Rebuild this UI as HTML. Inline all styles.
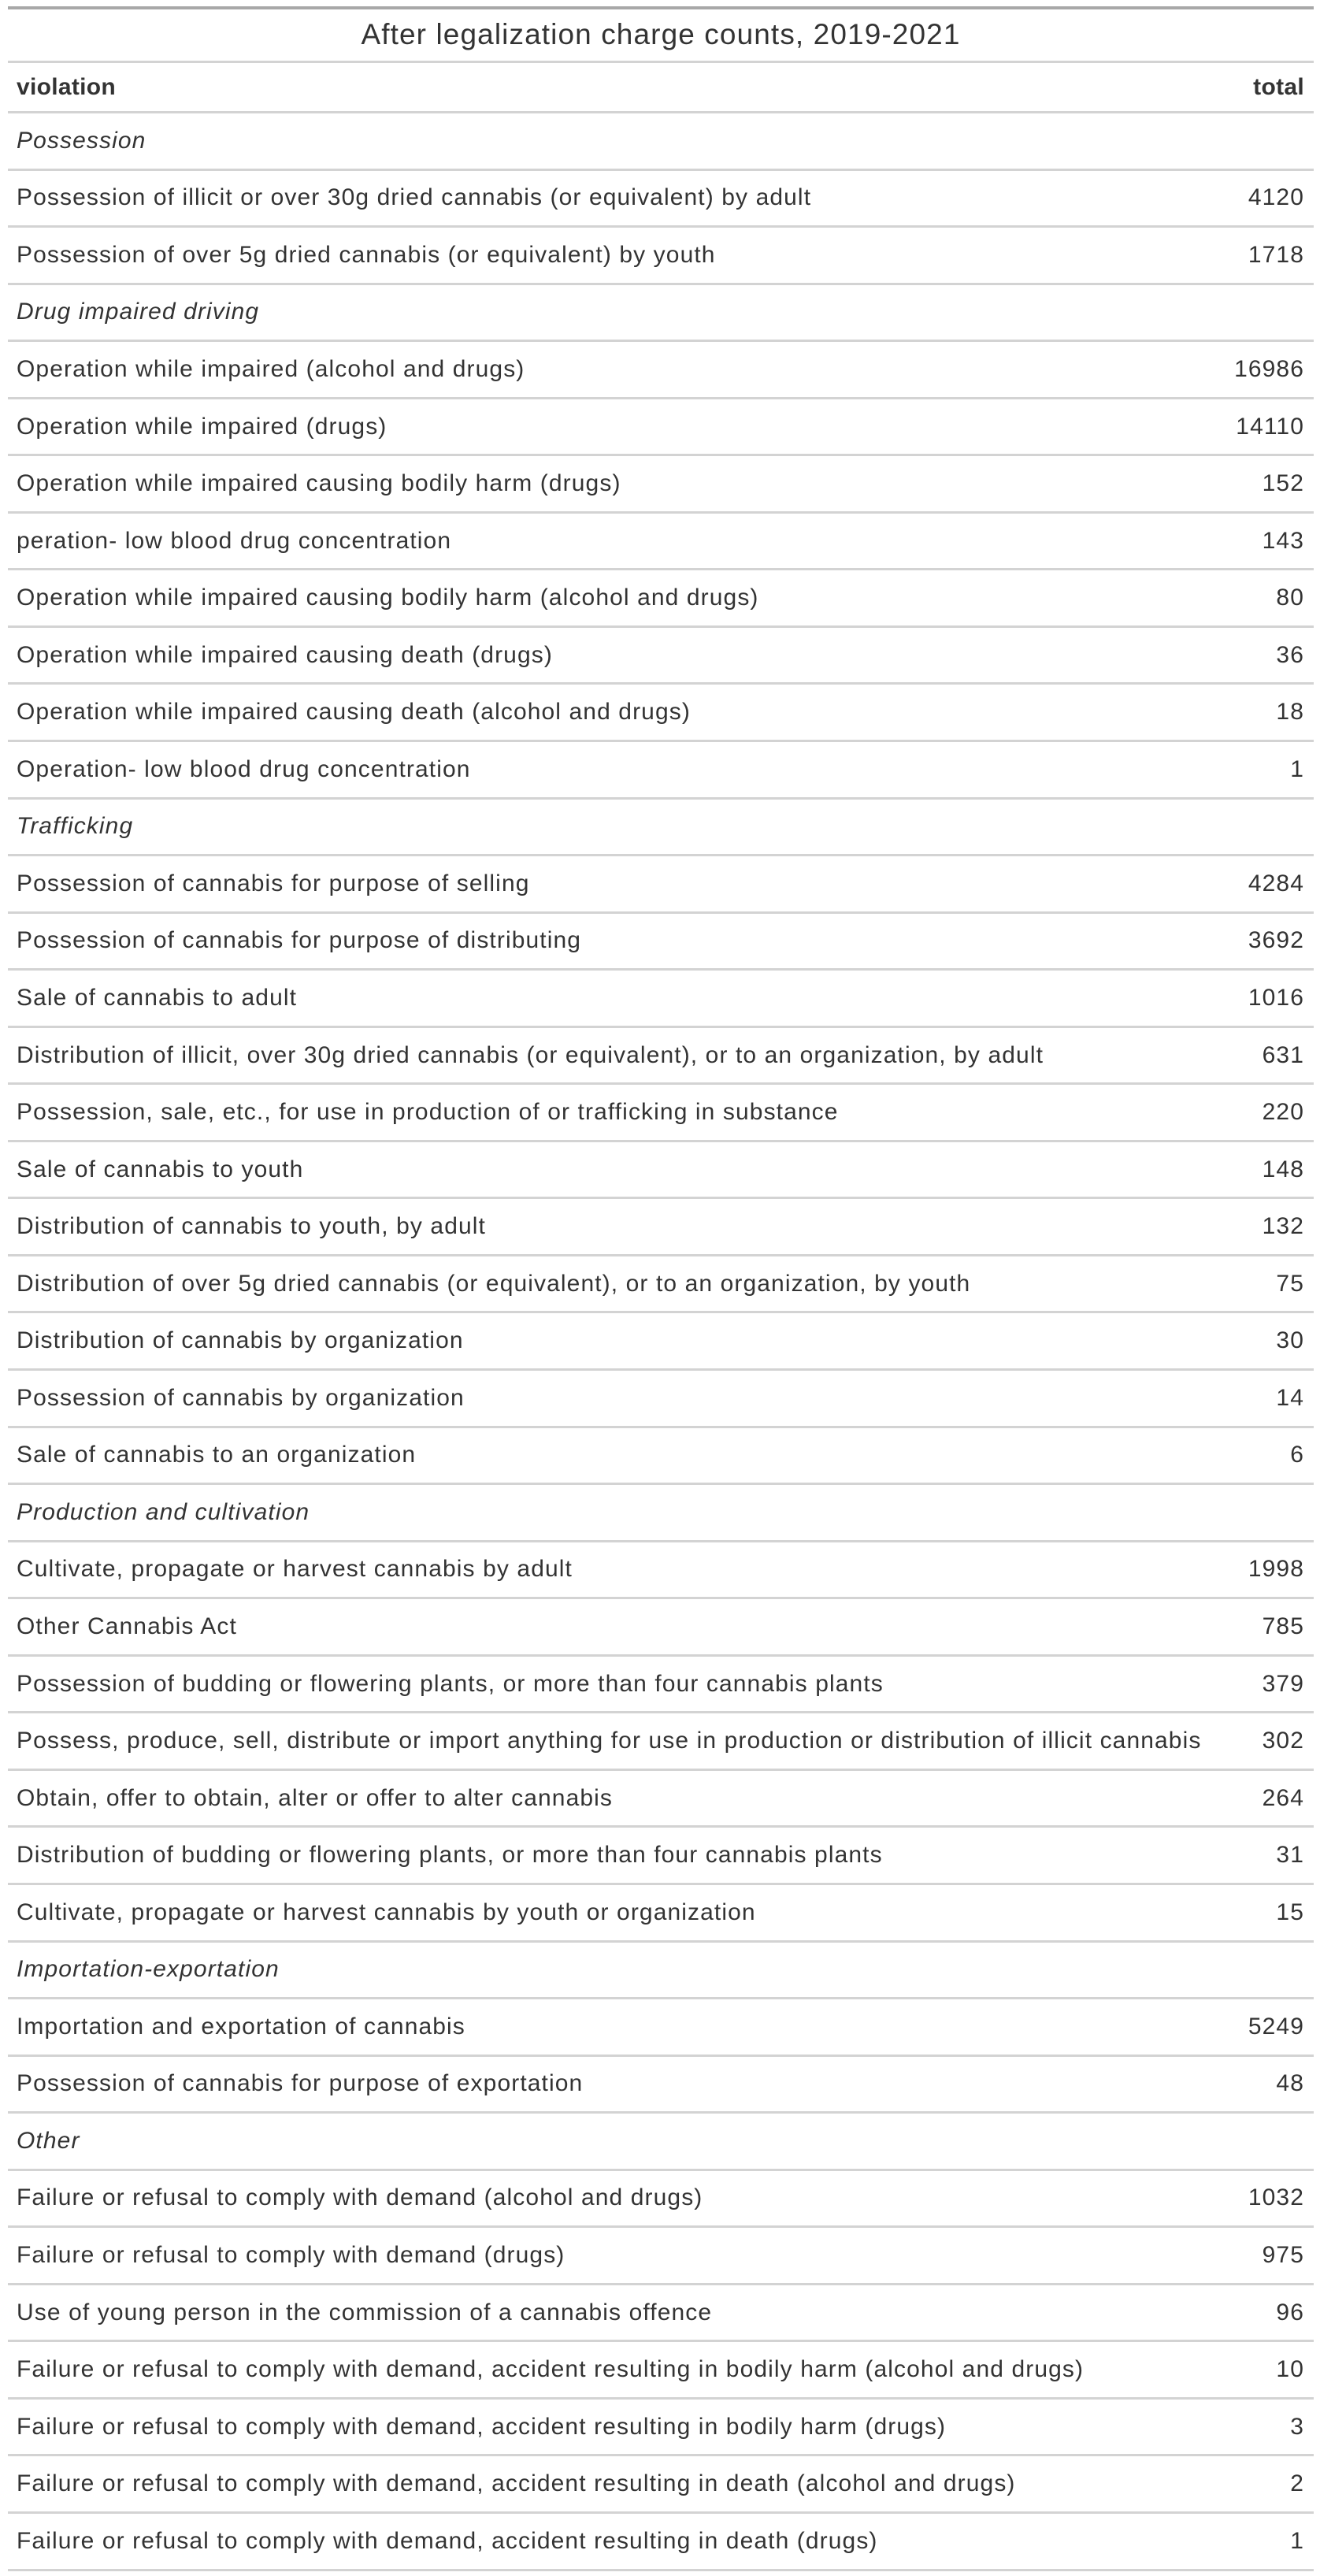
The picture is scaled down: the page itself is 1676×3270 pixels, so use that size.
<!DOCTYPE html>
<html><head><meta charset="utf-8">
<style>
body{margin:0;width:1676px;height:3270px;background:#fff;font-family:"Liberation Sans",sans-serif;color:#333;overflow:hidden}
#tbl{position:absolute;left:10px;top:8px;width:1658px}
.topb{height:4px;background:#a8a8a8}
.title{height:68px;box-sizing:border-box;border-bottom:3px solid #d3d3d3;text-align:center;font-size:37px;line-height:64px;letter-spacing:1.1px}
.row{position:relative;box-sizing:border-box;border-bottom:3px solid #d3d3d3;font-size:30px;display:flex;align-items:center;padding:0 12px 0 11px;letter-spacing:1.1px}
.row .v{flex:1;white-space:nowrap}
.row .t{text-align:right}
.hdr{height:64px;font-weight:bold;letter-spacing:0.3px}
.grp{font-style:italic}
</style></head><body>
<div id="tbl">
<div class="topb"></div>
<div class="title">After legalization charge counts, 2019-2021</div>
<div class="row hdr"><span class="v">violation</span><span class="t">total</span></div>
<div id="body"></div>
</div>
<script>
const groups=["Possession","Drug impaired driving","Trafficking","Production and cultivation","Importation-exportation","Other"];
const groupSizes=[2,8,11,7,2,7];
const violations=[
"Possession of illicit or over 30g dried cannabis (or equivalent) by adult",
"Possession of over 5g dried cannabis (or equivalent) by youth",
"Operation while impaired (alcohol and drugs)",
"Operation while impaired (drugs)",
"Operation while impaired causing bodily harm (drugs)",
"peration- low blood drug concentration",
"Operation while impaired causing bodily harm (alcohol and drugs)",
"Operation while impaired causing death (drugs)",
"Operation while impaired causing death (alcohol and drugs)",
"Operation- low blood drug concentration",
"Possession of cannabis for purpose of selling",
"Possession of cannabis for purpose of distributing",
"Sale of cannabis to adult",
"Distribution of illicit, over 30g dried cannabis (or equivalent), or to an organization, by adult",
"Possession, sale, etc., for use in production of or trafficking in substance",
"Sale of cannabis to youth",
"Distribution of cannabis to youth, by adult",
"Distribution of over 5g dried cannabis (or equivalent), or to an organization, by youth",
"Distribution of cannabis by organization",
"Possession of cannabis by organization",
"Sale of cannabis to an organization",
"Cultivate, propagate or harvest cannabis by adult",
"Other Cannabis Act",
"Possession of budding or flowering plants, or more than four cannabis plants",
"Possess, produce, sell, distribute or import anything for use in production or distribution of illicit cannabis",
"Obtain, offer to obtain, alter or offer to alter cannabis",
"Distribution of budding or flowering plants, or more than four cannabis plants",
"Cultivate, propagate or harvest cannabis by youth or organization",
"Importation and exportation of cannabis",
"Possession of cannabis for purpose of exportation",
"Failure or refusal to comply with demand (alcohol and drugs)",
"Failure or refusal to comply with demand (drugs)",
"Use of young person in the commission of a cannabis offence",
"Failure or refusal to comply with demand, accident resulting in bodily harm (alcohol and drugs)",
"Failure or refusal to comply with demand, accident resulting in bodily harm (drugs)",
"Failure or refusal to comply with demand, accident resulting in death (alcohol and drugs)",
"Failure or refusal to comply with demand, accident resulting in death (drugs)"];
const totals=[4120,1718,16986,14110,152,143,80,36,18,1,4284,3692,1016,631,220,148,132,75,30,14,6,1998,785,379,302,264,31,15,5249,48,1032,975,96,10,3,2,1];
const body=document.getElementById('body');
const H=72.55;
let k=0;
groups.forEach((g,gi)=>{
  const r=document.createElement('div');r.className='row grp';r.style.height=H+'px';
  
  
  const s=document.createElement('span');s.className='v';s.textContent=g;
  
  
  r.appendChild(s);body.appendChild(r);
  for(let i=0;i<groupSizes[gi];i++,k++){
    const d=document.createElement('div');d.className='row';d.style.height=H+'px';
    
    
    const a=document.createElement('span');a.className='v';a.textContent=violations[k];
    
    
    const b=document.createElement('span');b.className='t';b.textContent=totals[k];
    
    
    d.appendChild(a);d.appendChild(b);body.appendChild(d);
  }
});
</script>
</body></html>
